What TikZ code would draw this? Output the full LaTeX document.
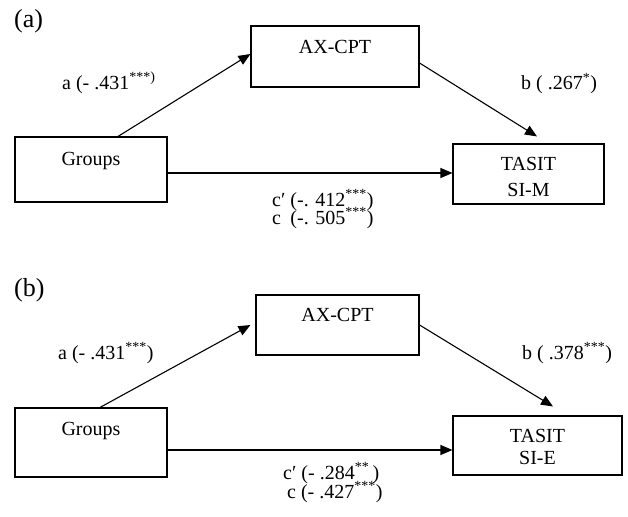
\documentclass[tikz,border=0pt]{standalone}
\usepackage{fontspec}
\setmainfont{Liberation Serif}
\usetikzlibrary{arrows.meta}
\tikzset{font=\fontsize{20}{24}\selectfont}
\tikzset{
	box/.style={draw, line width=1.1pt, inner sep=0pt},
	link/.style={line width=1.1pt, -{Triangle[length=12pt, width=10pt]}},
	coef/.style={anchor=base west, inner sep=0pt},
	panel/.style={anchor=base west, inner sep=0pt, font=\fontsize{26}{30}\selectfont}
}

\begin{document}
\begin{tikzpicture}[x=1pt, y=-1pt]
	\useasboundingbox (0, 0) rectangle (628, 516);
	\begin{scope}
		\tikzstyle{every node}=[align=center]
		% (a) SI-M
		\node[panel] (laba) at (14, 28) {(a)};
		\node[box, minimum width=152pt, text height=28pt, text depth=37pt] (grpa) at (91, 169.5) {Groups};
		\node[box, minimum width=168pt, text height=27.6pt, text depth=33.4pt] (axa) at (335, 56.5) {AX-CPT};
		\node[box, minimum width=151pt, minimum height=60pt] (tasa) at (528.5, 174) {\rule{0pt}{19.5pt}TASIT\\[2pt]SI-M};

		\node[coef] (pa) at (62, 89) {a (- .431\textsuperscript{***)}};
		\node[coef] (pb) at (521, 90) {b ( .267\textsuperscript{*})};
		\node[coef, align=left] (pc) at (272, 224.5) {c′ (-. 412\textsuperscript{***})\\[-5.5pt]c\hphantom{′} (-. 505\textsuperscript{***})};

		\draw [link] ([xshift=27pt]grpa.north) to ([yshift=2.5pt]axa.west);
		\draw [link] ([yshift=-6.5pt]axa.east) to ([xshift=8.5pt, yshift=7pt]tasa.north);
		\draw [link] ([yshift=-3.5pt]grpa.east) to ([yshift=-3.5pt]grpa.east -| tasa.west);

		% (b) SI-E
		\node[panel] (labb) at (14, 296) {(b)};
		\node[box, minimum width=152pt, text height=27pt, text depth=42pt] (grpb) at (91, 442.5) {Groups};
		\node[box, minimum width=163pt, text height=26.7pt, text depth=33.3pt] (axb) at (337.5, 325) {AX-CPT};
		\node[box, minimum width=169pt, minimum height=59pt] (tasb) at (537.5, 445.5) {\rule{0pt}{16pt}TASIT\\[-2pt]SI-E};

		\node[coef] (qa) at (58, 359) {a (- .431\textsuperscript{***})};
		\node[coef] (qb) at (522, 359) {b ( .378\textsuperscript{***})};
		\node[coef, align=left] (qc) at (283, 498.3) {c′ (- .284\textsuperscript{**}\,)\\[-5pt]\hspace*{4pt}c (- .427\textsuperscript{***})};

		\draw [link] ([xshift=9pt]grpb.north) to ([xshift=-5pt]axb.west);
		\draw [link] (axb.east) to ([xshift=15.5pt, yshift=9pt]tasb.north);
		\draw [link] ([yshift=-7.5pt]grpb.east) to ([yshift=-7.5pt]grpb.east -| tasb.west);
	\end{scope}
\end{tikzpicture}
\end{document}
